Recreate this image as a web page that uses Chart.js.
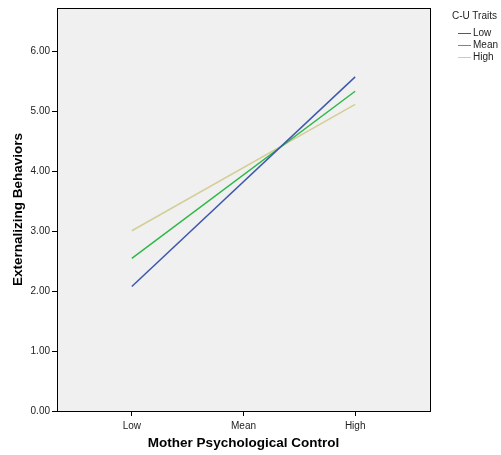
<!DOCTYPE html>
<html>
<head>
<meta charset="utf-8">
<script src="https://cdn.jsdelivr.net/npm/chart.js@4/dist/chart.umd.min.js"></script>
<style>
  body { margin: 0; background: #fff; }
  #wrap { position: relative; width: 501px; height: 455px; }
  #legend { position: absolute; left: 452px; top: 10px; font-family: "Liberation Sans", Arial, sans-serif; font-size: 10px; color: #222; }
  #legend .title { margin-bottom: 5px; height: 12px; line-height: 12px; }
  #legend .item { height: 12px; line-height: 12px; position: relative; padding-left: 21px; }
  #legend .item span { position: absolute; left: 6px; top: 6px; width: 13px; height: 1px; }
</style>
</head>
<body>
<div id="wrap">
  <canvas id="chart" width="501" height="455"></canvas>
  <div id="legend"></div>
</div>
<script>
var categories = ["Low", "Mean", "High"];
var seriesNames = ["Low", "Mean", "High"];
var lowValues = [2.08, null, 5.58];
var meanValues = [2.55, null, 5.34];
var highValues = [3.01, null, 5.12];
var yTicks = [0, 1, 2, 3, 4, 5, 6];
var colors = ["#3e58ac", "#2eb848", "#d3ce97"];

function toPoints(vals) {
    return vals.map(function (v, i) { return { x: i + 1, y: v }; });
}

var series = [lowValues, meanValues, highValues];
var datasets = series.map(function (vals, i) {
    return {
        label: seriesNames[i],
        data: toPoints(vals),
        borderColor: colors[i],
        borderWidth: 1.5,
        pointRadius: 0,
        spanGaps: true,
        fill: false
    };
});

// legend
var legend = document.getElementById('legend');
var html = '<div class="title">C-U Traits</div>';
seriesNames.forEach(function (n, i) {
    html += '<div class="item"><span style="background:' + colors[i] + '"></span>' + n + '</div>';
});
legend.innerHTML = html;

var plotFrame = {
    id: 'plotFrame',
    beforeDatasetsDraw: function (chart) {
        var a = chart.chartArea, c = chart.ctx;
        c.save();
        c.fillStyle = '#f0f0f0';
        c.fillRect(a.left, a.top, a.right - a.left, a.bottom - a.top);
        c.restore();
    },
    afterDraw: function (chart) {
        var a = chart.chartArea, c = chart.ctx;
        c.save();
        c.strokeStyle = '#000';
        c.lineWidth = 1;
        c.strokeRect(a.left + 0.5, a.top + 0.5, a.right - a.left, a.bottom - a.top);
        c.restore();
    }
};

var ctx = document.getElementById('chart').getContext('2d');
new Chart(ctx, {
    type: 'line',
    data: { datasets: datasets },
    options: {
        responsive: false,
        animation: false,
        layout: { padding: { top: 7, right: 71, left: 0, bottom: 0 } },
        plugins: { legend: { display: false }, tooltip: { enabled: false } },
        scales: {
            x: {
                type: 'linear',
                min: 0.33,
                max: 3.67,
                afterBuildTicks: function (s) { s.ticks = categories.map(function (c, i) { return { value: i + 1 }; }); },
                afterFit: function (s) { s.height = 44; },
                ticks: {
                    callback: function (v) { return categories[v - 1]; },
                    color: '#222',
                    font: { family: 'Liberation Sans', size: 10 },
                    padding: 4,
                    maxRotation: 0
                },
                grid: { drawOnChartArea: false, drawTicks: true, tickLength: 5, color: '#000' },
                border: { display: false },
                title: {
                    display: true,
                    text: 'Mother Psychological Control',
                    color: '#000',
                    font: { family: 'Liberation Sans', size: 13.5, weight: 'bold' },
                    padding: { top: 8 }
                }
            },
            y: {
                min: 0,
                max: 6.73,
                afterBuildTicks: function (s) { s.ticks = yTicks.map(function (v) { return { value: v }; }); },
                afterFit: function (s) { s.width = 57; },
                ticks: {
                    callback: function (v) { return v.toFixed(2); },
                    color: '#222',
                    font: { family: 'Liberation Sans', size: 10 },
                    padding: 2
                },
                grid: { drawOnChartArea: false, drawTicks: true, tickLength: 5, color: '#000' },
                border: { display: false },
                title: {
                    display: true,
                    text: 'Externalizing Behaviors',
                    color: '#000',
                    font: { family: 'Liberation Sans', size: 13.5, weight: 'bold' },
                    padding: { top: 10, bottom: 4 }
                }
            }
        }
    },
    plugins: [plotFrame]
});
</script>
</body>
</html>
